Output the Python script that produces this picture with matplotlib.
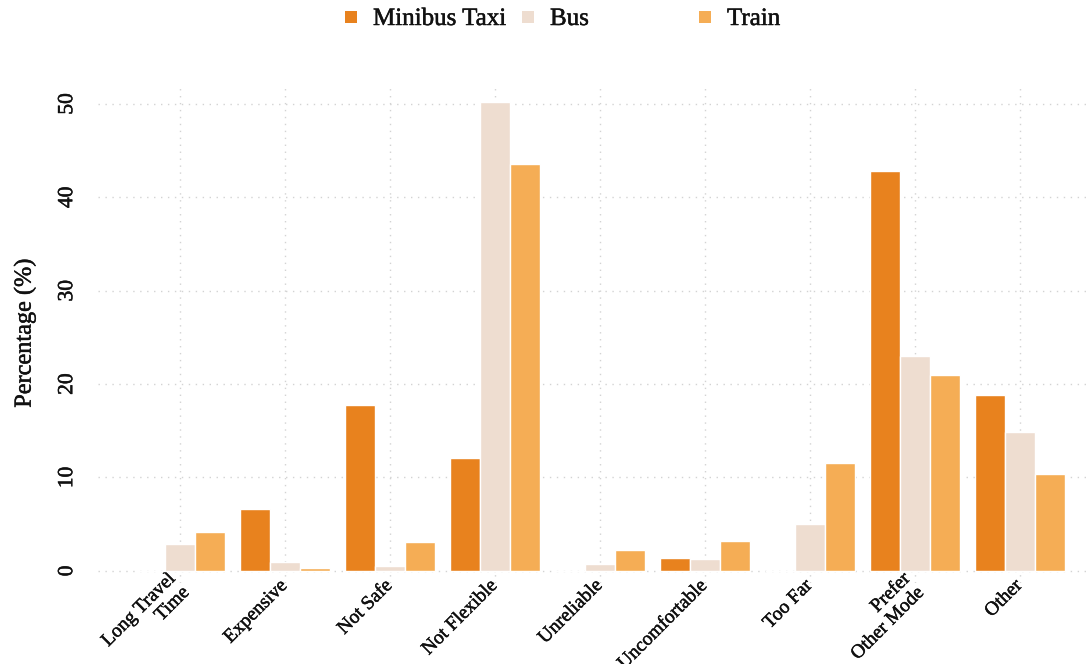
import matplotlib
matplotlib.use('Agg')
import matplotlib.pyplot as plt
import matplotlib.patheffects as pe
import numpy as np
from matplotlib.patches import Rectangle

categories = ["Long Travel\nTime", "Expensive", "Not Safe", "Not Flexible", "Unreliable",
              "Uncomfortable", "Too Far", "Prefer\nOther Mode", "Other"]
minibus = [0.0, 6.6, 17.8, 12.1, 0.0, 1.4, 0.0, 42.8, 18.8]
bus = [2.9, 1.0, 0.5, 50.2, 0.7, 1.3, 5.0, 23.0, 14.9]
train = [4.2, 0.3, 3.1, 43.6, 2.2, 3.2, 11.6, 21.0, 10.4]
series_names = ["Minibus Taxi", "Bus", "Train"]
colors = ["#E8821E", "#EEDDD0", "#F5AD55"]
yticks = [0, 10, 20, 30, 40, 50]

plt.rcParams['font.family'] = ['Liberation Serif', 'DejaVu Serif']
plt.rcParams['text.color'] = '#111111'
plt.rcParams['xtick.color'] = '#111111'
plt.rcParams['ytick.color'] = '#111111'
plt.rcParams['axes.labelcolor'] = '#111111'
thick = [pe.withStroke(linewidth=0.35, foreground='#111111')]

W, H = 1089, 664
fig = plt.figure(figsize=(W / 100, H / 100), dpi=100)
ax = fig.add_axes([98 / W, (H - 583) / H, 1 - 98 / W, (583 - 88) / H])

x = np.arange(len(categories))
w = 0.286
for i, (vals, c) in enumerate(zip([minibus, bus, train], colors)):
    ax.bar(x + (i - 1) * w, vals, width=w, color=c, edgecolor='white',
           linewidth=1.0, zorder=3, label=series_names[i])

ax.set_xlim(-0.78, 8.66)
ax.set_ylim(-1.3, 51.7)
ax.set_axisbelow(True)
ax.grid(True, color='#d3d3d3', linestyle=(0, (1, 4)), linewidth=1.0)
for s in ax.spines.values():
    s.set_visible(False)

ax.set_yticks(yticks)
ax.set_yticklabels([str(v) for v in yticks], rotation=90, va='center', fontsize=15.5)
ax.tick_params(axis='y', length=0, pad=15)
ax.set_xticks(x)
ax.set_xticklabels(categories, rotation=45, ha='right', va='center', rotation_mode='anchor',
                   multialignment='right', fontsize=14)
ax.tick_params(axis='x', length=0, pad=0)
for t in ax.get_xticklabels() + ax.get_yticklabels():
    t.set_path_effects(thick)

ax.set_ylabel('Percentage (%)', fontsize=17.5)
ax.yaxis.label.set_verticalalignment('center')
ax.yaxis.set_label_coords((25 - 98) / 991, ((H - 333) - 81) / 495)
ax.yaxis.label.set_path_effects(thick)

# legend at top
legend_sq_x = [345, 522, 699]
legend_tx_x = [373, 550, 727]
for sx, tx, name, c in zip(legend_sq_x, legend_tx_x, series_names, colors):
    fig.patches.append(Rectangle((sx / W, 1 - 23 / H), 12 / W, 12 / H,
                                 transform=fig.transFigure, facecolor=c, edgecolor='none'))
    fig.text(tx / W, 1 - 25 / H, name, fontsize=18, va='baseline', ha='left',
             path_effects=thick)

fig.savefig('out.png', dpi=100)
